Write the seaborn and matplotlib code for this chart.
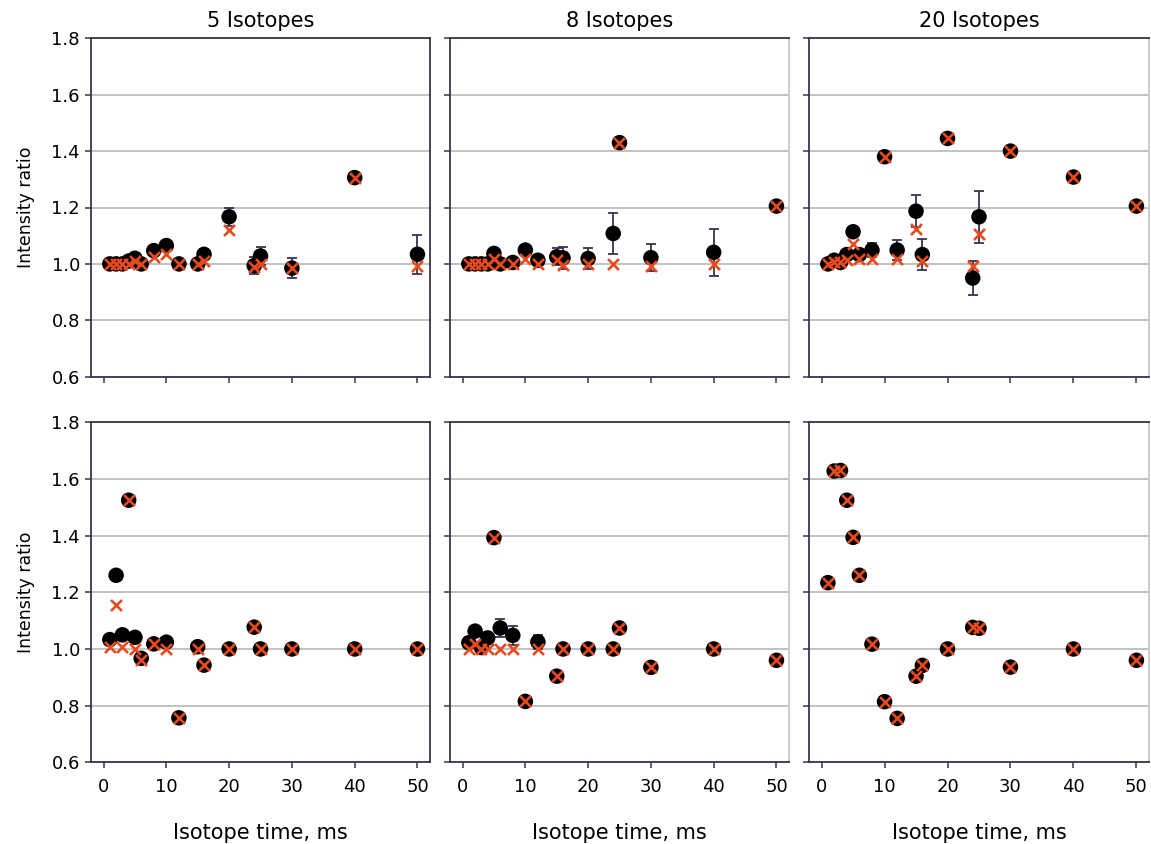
import numpy as np
import pandas as pd
import matplotlib
matplotlib.use("Agg")
import matplotlib.pyplot as plt
import seaborn as sns

# isotope times (ms), shared by every panel
time_ms = [1, 2, 3, 4, 5, 6, 8, 10, 12, 15, 16, 20, 24, 25, 30, 40, 50]

column_titles = ["5 Isotopes", "8 Isotopes", "20 Isotopes"]

# top row: measured mean (black circles), expected (red x), error bar half-width
mean_top5 = [1.00, 1.00, 1.00, 1.01, 1.02, 1.00, 1.047, 1.065, 1.00, 1.00, 1.034, 1.167, 0.994, 1.028, 0.985, 1.306, 1.034]
cross_top5 = [1.00, 1.00, 1.00, 1.00, 1.01, 1.00, 1.024, 1.034, 1.00, 1.00, 1.01, 1.12, 0.99, 1.00, 0.985, 1.306, 0.994]
err_top5 = [0, 0, 0, 0, 0, 0, 0, 0, 0, 0, 0.015, 0.033, 0.03, 0.033, 0.036, 0, 0.07]

mean_top8 = [1.00, 1.00, 1.00, 1.00, 1.037, 1.00, 1.005, 1.049, 1.013, 1.025, 1.021, 1.019, 1.108, 1.43, 1.022, 1.041, 1.205]
cross_top8 = [1.00, 1.00, 1.00, 1.00, 1.019, 1.00, 1.00, 1.019, 1.00, 1.013, 0.995, 1.00, 1.00, 1.43, 0.993, 1.00, 1.205]
err_top8 = [0, 0, 0, 0, 0, 0, 0, 0, 0, 0.03, 0.038, 0.038, 0.072, 0, 0.048, 0.083, 0]

mean_top20 = [1.00, 1.013, 1.005, 1.033, 1.114, 1.033, 1.049, 1.38, 1.049, 1.187, 1.033, 1.445, 0.95, 1.167, 1.40, 1.308, 1.205]
cross_top20 = [1.00, 1.005, 1.005, 1.013, 1.069, 1.019, 1.019, 1.38, 1.017, 1.122, 1.009, 1.445, 0.993, 1.105, 1.40, 1.308, 1.205]
err_top20 = [0, 0, 0, 0, 0, 0, 0.024, 0, 0.036, 0.057, 0.055, 0, 0.062, 0.093, 0, 0, 0]

# bottom row
mean_bot5 = [1.033, 1.26, 1.05, 1.525, 1.041, 0.967, 1.018, 1.024, 0.757, 1.008, 0.943, 1.00, 1.077, 1.00, 1.00, 1.00, 1.00]
cross_bot5 = [1.008, 1.155, 1.008, 1.525, 1.00, 0.961, 1.018, 1.00, 0.757, 1.00, 0.943, 1.00, 1.077, 1.00, 1.00, 1.00, 1.00]
err_bot5 = [0] * 17

mean_bot8 = [1.022, 1.063, 1.005, 1.039, 1.393, 1.074, 1.048, 0.815, 1.025, 0.904, 1.00, 1.00, 1.00, 1.074, 0.935, 1.00, 0.96]
cross_bot8 = [1.00, 1.019, 1.00, 1.00, 1.393, 1.00, 1.00, 0.815, 1.00, 0.904, 1.00, 1.00, 1.00, 1.074, 0.935, 1.00, 0.96]
err_bot8 = [0, 0, 0, 0, 0, 0.031, 0.034, 0, 0.026, 0, 0, 0, 0, 0, 0, 0, 0]

mean_bot20 = [1.234, 1.628, 1.63, 1.525, 1.394, 1.26, 1.017, 0.814, 0.755, 0.904, 0.942, 1.00, 1.076, 1.073, 0.936, 1.00, 0.96]
cross_bot20 = [1.234, 1.628, 1.63, 1.525, 1.394, 1.26, 1.017, 0.814, 0.755, 0.904, 0.942, 1.00, 1.076, 1.073, 0.936, 1.00, 0.96]
err_bot20 = [0] * 17

y_ticks = [0.6, 0.8, 1.0, 1.2, 1.4, 1.6, 1.8]
x_ticks = [0, 10, 20, 30, 40, 50]

panels = [
    [(mean_top5, cross_top5, err_top5), (mean_top8, cross_top8, err_top8), (mean_top20, cross_top20, err_top20)],
    [(mean_bot5, cross_bot5, err_bot5), (mean_bot8, cross_bot8, err_bot8), (mean_bot20, cross_bot20, err_bot20)],
]

sns.set_style("white")
plt.rcParams["font.family"] = ["DejaVu Sans"]
plt.rcParams["text.color"] = "black"
plt.rcParams["axes.labelcolor"] = "black"

DARK = "#3a3350"
RED = "#e84a1f"
GRID = "#b8b8b8"

fig = plt.figure(figsize=(11.51, 8.44), dpi=100)

W, H = 1151, 844
col_px = [(91, 430), (450, 789), (809, 1149)]
row_px = [(38.3, 376.7), (422.3, 762.3)]

for r, row in enumerate(panels):
    for c, (mean, cross, err) in enumerate(row):
        x0, x1 = col_px[c]
        y0, y1 = row_px[r]
        ax = fig.add_axes([x0 / W, 1 - y1 / H, (x1 - x0) / W, (y1 - y0) / H])

        df = pd.DataFrame({"time": time_ms, "mean": mean, "cross": cross, "err": err})
        eb = df[df["err"] > 0]
        ax.errorbar(eb["time"], eb["mean"], yerr=eb["err"], fmt="none",
                    ecolor=DARK, elinewidth=1.3, capsize=3.8, capthick=1.3, zorder=2)
        sns.scatterplot(data=df, x="time", y="mean", ax=ax, color="black",
                        s=125, edgecolor="none", zorder=3, legend=False)
        sns.scatterplot(data=df, x="time", y="cross", ax=ax, color=RED, marker="x",
                        s=62, linewidth=1.9, zorder=4, legend=False)

        ax.set_xlim(-2, 52)
        ax.set_ylim(0.6, 1.8)
        ax.set_xticks(x_ticks)
        ax.set_yticks(y_ticks)
        ax.yaxis.grid(True, color=GRID, linewidth=1.2)
        ax.xaxis.grid(False)
        ax.set_axisbelow(True)
        ax.tick_params(axis="both", direction="out", length=4, width=1.1,
                       color=DARK, labelsize=13, labelcolor="black", pad=4)
        ax.tick_params(axis="x", pad=7)
        ax.tick_params(left=True, bottom=True)

        for side in ["left", "top", "bottom", "right"]:
            ax.spines[side].set_visible(True)
            ax.spines[side].set_color(DARK)
            ax.spines[side].set_linewidth(1.3)
        if c > 0:
            ax.spines["right"].set_color("#c8c8d0")

        if c == 0:
            ax.set_yticklabels([f"{v:.1f}" for v in y_ticks])
            ax.set_ylabel("Intensity ratio", fontsize=12.5, labelpad=12)
        else:
            ax.set_yticklabels([])
            ax.set_ylabel("")

        if r == 1:
            ax.set_xlabel("Isotope time, ms", fontsize=15, labelpad=20)
        else:
            ax.set_xticklabels([])
            ax.set_xlabel("")
            ax.set_title(column_titles[c], fontsize=15, pad=8)

fig.savefig("out.png", dpi=100)
